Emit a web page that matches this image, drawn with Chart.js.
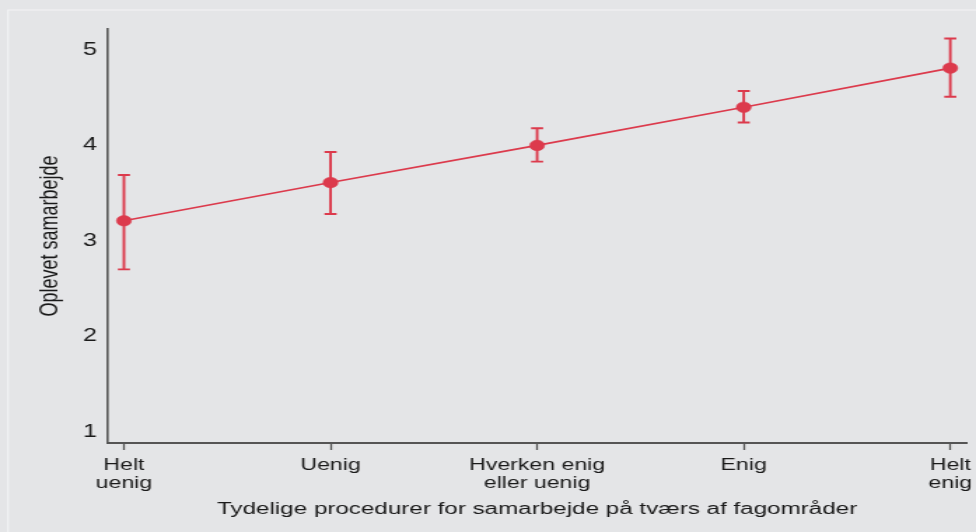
<!DOCTYPE html>
<html>
<head>
<meta charset="utf-8">
<script src="https://cdn.jsdelivr.net/npm/chart.js@4.4.1/dist/chart.umd.min.js"></script>
<style>
  html, body { margin: 0; padding: 0; background: #e4e5e7; }
  #wrap { width: 976px; height: 532px; overflow: hidden; }
</style>
</head>
<body>
<div id="wrap">
  <canvas id="chart" width="697" height="532" style="width:976px;height:532px"></canvas>
</div>
<script>
// data
const categories = [['Helt', 'uenig'], 'Uenig', ['Hverken enig', 'eller uenig'], 'Enig', ['Helt', 'enig']];
const means = [3.21, 3.61, 4.0, 4.4, 4.81];
const lower = [2.70, 3.28, 3.83, 4.24, 4.51];
const upper = [3.69, 3.93, 4.18, 4.57, 5.12];
const yTicks = [1, 2, 3, 4, 5];

const yTitle = 'Oplevet samarbejde';
const xTitle = 'Tydelige procedurer for samarbejde på tværs af fagområder';

// the original picture is stretched sideways, so the canvas is drawn narrow and widened by css
const SX = 1.4;
const red = '#dc3a4c';
const axisColor = '#555555';
const fontFamily = '"Liberation Sans", Arial, sans-serif';

const background = {
  id: 'background',
  beforeDraw(chart) {
    const ctx = chart.ctx;
    ctx.save();
    ctx.fillStyle = '#e4e5e7';
    ctx.fillRect(0, 0, chart.width, chart.height);
    ctx.strokeStyle = '#f3f4f5';
    ctx.lineWidth = 1.2;
    ctx.beginPath();
    ctx.moveTo(8 / SX, chart.height);
    ctx.lineTo(8 / SX, 10);
    ctx.lineTo(chart.width, 10);
    ctx.stroke();
    ctx.restore();
  }
};

const errorBars = {
  id: 'errorBars',
  beforeDatasetsDraw(chart) {
    const ctx = chart.ctx;
    const xs = chart.scales.x;
    const ys = chart.scales.y;
    ctx.save();
    ctx.strokeStyle = red;
    ctx.lineWidth = 1.9;
    means.forEach((m, i) => {
      const x = xs.getPixelForValue(i);
      const yLo = ys.getPixelForValue(lower[i]);
      const yHi = ys.getPixelForValue(upper[i]);
      const half = 4.3;
      ctx.beginPath();
      ctx.moveTo(x, yLo);
      ctx.lineTo(x, yHi);
      ctx.moveTo(x - half, yLo);
      ctx.lineTo(x + half, yLo);
      ctx.moveTo(x - half, yHi);
      ctx.lineTo(x + half, yHi);
      ctx.stroke();
    });
    ctx.restore();
  }
};

new Chart(document.getElementById('chart'), {
  type: 'scatter',
  data: {
    datasets: [{
      data: means.map((m, i) => ({ x: i, y: m })),
      showLine: true,
      borderColor: red,
      borderWidth: 1.6,
      backgroundColor: red,
      pointBackgroundColor: red,
      pointBorderColor: red,
      pointBorderWidth: 0.5,
      pointRadius: 5.3,
      tension: 0
    }]
  },
  options: {
    responsive: false,
    animation: false,
    devicePixelRatio: 1,
    layout: { padding: { left: 0, top: 29, right: 7, bottom: 0 } },
    plugins: {
      legend: { display: false },
      tooltip: { enabled: false }
    },
    scales: {
      x: {
        type: 'linear',
        min: -0.077,
        max: 4.077,
        afterBuildTicks: s => { s.ticks = categories.map((c, i) => ({ value: i })); },
        afterFit: s => {
          s.height = 532 - 443;
          s.paddingLeft = 0;
          s.paddingRight = 0;
        },
        grid: { drawOnChartArea: false, drawTicks: true, tickLength: 7, color: axisColor, tickWidth: 1.3 },
        border: { display: true, color: axisColor, width: 2 },
        ticks: {
          autoSkip: false,
          maxRotation: 0,
          padding: 6,
          color: '#1a1a1a',
          font: { family: fontFamily, size: 16.5, lineHeight: 1.1 },
          callback: v => categories[Math.round(v)]
        },
        title: {
          display: true,
          text: xTitle,
          color: '#1a1a1a',
          font: { family: fontFamily, size: 17.3, lineHeight: 1.2 },
          padding: { top: 0, bottom: 12.5 }
        }
      },
      y: {
        type: 'linear',
        min: 0.88,
        max: 5.22,
        afterBuildTicks: s => { s.ticks = yTicks.map(v => ({ value: v })); },
        afterFit: s => {
          s.width = 108 / SX;
          s.paddingTop = 0;
          s.paddingBottom = 0;
        },
        grid: { display: false, drawTicks: false, tickLength: 0 },
        border: { display: true, color: axisColor, width: 1.6 },
        ticks: {
          padding: 8,
          color: '#1a1a1a',
          font: { family: fontFamily, size: 18 }
        },
        title: {
          display: true,
          text: yTitle,
          color: '#1a1a1a',
          font: { family: fontFamily, size: 18, lineHeight: 1.2 },
          padding: { top: 25.5, bottom: 0 }
        }
      }
    }
  },
  plugins: [background, errorBars]
});
</script>
</body>
</html>
